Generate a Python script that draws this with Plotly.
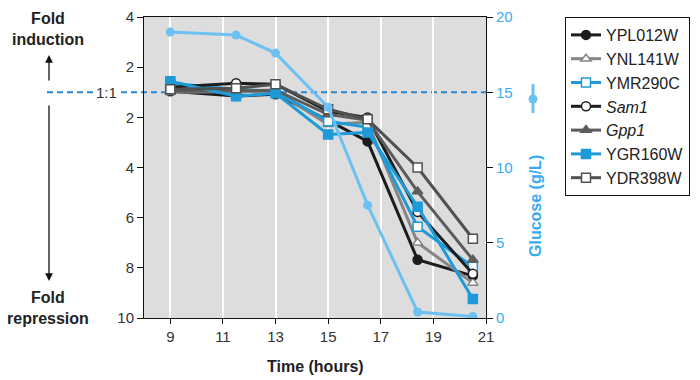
import plotly.graph_objects as go

# ---------------- data ----------------
time_h = [9, 11.5, 13, 15, 16.5, 18.4, 20.5]
# fold change: positive = fold induction, negative = fold repression
YPL012W = [1.04, -1.15, -1.08, -2.12, -2.96, -7.68, -8.32]
YNL141W = [1.0, 1.04, 1.04, -2.28, -2.2, -7.0, -8.6]
YMR290C = [1.36, 1.12, 1.04, -2.16, -2.4, -6.36, -7.96]
Sam1 = [1.2, 1.36, 1.32, -1.76, -2.01, -5.77, -8.24]
Gpp1 = [1.04, 1.08, 1.08, -1.88, -2.12, -4.96, -7.68]
YGR160W = [1.44, -1.16, -1.04, -2.68, -2.6, -5.56, -9.24]
YDR398W = [1.12, 1.16, 1.32, -1.68, -2.08, -4.0, -6.84]
glucose = [19.0, 18.8, 17.6, 14.0, 7.5, 0.4, 0.1]

x_ticks = [9, 11, 13, 15, 17, 19, 21]
fold_ticks = [4, 2, -2, -4, -6, -8, -10]
fold_tick_text = ["4", "2", "2", "4", "6", "8", "10"]
glucose_ticks = [0, 5, 10, 15, 20]


def pos(v):
    # map signed fold change onto a linear axis where 1:1 sits at 0
    return v - 1 if v > 0 else v + 1


series = [
    ("YPL012W", YPL012W, "#1c1c1c", "circle", "#1c1c1c"),
    ("YNL141W", YNL141W, "#858585", "triangle-up", "white"),
    ("YMR290C", YMR290C, "#1e9ad8", "square", "white"),
    ("<i>Sam1</i>", Sam1, "#1c1c1c", "circle", "white"),
    ("<i>Gpp1</i>", Gpp1, "#5c5c5c", "triangle-up", "#5c5c5c"),
    ("YGR160W", YGR160W, "#1e9ad8", "square", "#1e9ad8"),
    ("YDR398W", YDR398W, "#505050", "square", "white"),
]

FONT = "Liberation Sans, Arial, sans-serif"
OFF = 8  # page body margin
FIG_W, FIG_H = 700 - OFF, 380 - OFF
# plot area in screen pixels
L, R, T, B = 144, 486, 17, 318
W, H = R - L, B - T
Y_MIN, Y_MAX = -9, 3


def px_x(p):
    return (p - L) / W


def px_y(p):
    return (B - p) / H


fig = go.Figure()
for name, vals, col, sym, fill in series:
    fig.add_trace(go.Scatter(
        x=time_h, y=[pos(v) for v in vals], name=name, mode="lines+markers",
        line=dict(color=col, width=3),
        marker=dict(symbol=sym, size=9, color=fill, line=dict(color=col, width=1.5)),
    ))

fig.add_trace(go.Scatter(
    x=time_h, y=glucose, yaxis="y2", mode="lines+markers", showlegend=False,
    line=dict(color="#6cc0f2", width=3),
    marker=dict(symbol="circle", size=9, color="#6cc0f2"),
))

one_to_one = (0 - Y_MIN) / (Y_MAX - Y_MIN)
dash_line = dict(color="#2a88d0", width=2, dash="6px,4px")
shapes = [
    dict(type="line", xref="paper", yref="paper", x0=px_x(47), x1=px_x(93),
         y0=one_to_one, y1=one_to_one, line=dash_line),
    dict(type="line", xref="paper", yref="paper", x0=px_x(121), x1=1,
         y0=one_to_one, y1=one_to_one, layer="below", line=dash_line),
    dict(type="line", xref="paper", yref="paper", x0=px_x(533), x1=px_x(533),
         y0=px_y(84), y1=px_y(113), line=dict(color="#6cc0f2", width=3)),
    dict(type="circle", xref="paper", yref="paper", x0=px_x(528.5), x1=px_x(537.5),
         y0=px_y(94.5), y1=px_y(103.5), fillcolor="#6cc0f2", line=dict(width=0)),
]


def label(text, x, y, size=16, color="#222", **kw):
    return dict(text=text, xref="paper", yref="paper", x=x, y=y, xanchor="center",
                yanchor="middle", showarrow=False,
                font=dict(family=FONT, size=size, color=color), **kw)


annotations = [
    label("1:1", px_x(106), one_to_one, size=15, color="#333"),
    label("<b>Fold<br>induction</b>", px_x(48), px_y(29)),
    label("<b>Fold<br>repression</b>", px_x(48), px_y(308)),
    label("<b>Glucose (g/L)</b>", px_x(535), px_y(206), color="#3aabef", textangle=-90),
    label("<b>Time (hours)</b>", px_x(315), px_y(366)),
    dict(text="", xref="paper", yref="paper", x=px_x(49), y=px_y(55), ax=0, ay=27,
         showarrow=True, arrowhead=2, arrowsize=1.2, arrowwidth=1.3, arrowcolor="#111",
         standoff=0),
    dict(text="", xref="paper", yref="paper", x=px_x(49), y=px_y(281), ax=0, ay=-177,
         showarrow=True, arrowhead=2, arrowsize=1.2, arrowwidth=1.3, arrowcolor="#111",
         standoff=0),
]

fig.update_layout(
    width=FIG_W, height=FIG_H,
    margin=dict(l=L - OFF, r=FIG_W - (R - OFF), t=T - OFF, b=FIG_H - (B - OFF),
                autoexpand=False),
    paper_bgcolor="white", plot_bgcolor="#dddddd",
    font=dict(family=FONT, size=15, color="#333"),
    showlegend=True,
    legend=dict(x=px_x(565), y=1, xanchor="left", yanchor="top",
                bordercolor="#111", borderwidth=1, bgcolor="white",
                font=dict(family=FONT, size=16, color="#222"), itemwidth=30,
                entrywidth=92),
    xaxis=dict(range=[8, 21], tickvals=x_ticks, showgrid=True, gridcolor="white",
               gridwidth=2, showline=True, linecolor="#111", linewidth=1, mirror=True,
               ticks="outside", ticklen=5, tickcolor="#111", zeroline=False,
               tickfont=dict(size=15, color="#333")),
    yaxis=dict(range=[Y_MIN, Y_MAX], tickvals=[pos(v) for v in fold_ticks],
               ticktext=fold_tick_text, showgrid=False, zeroline=False,
               showline=True, linecolor="#111", linewidth=1, mirror=True,
               ticks="outside", ticklen=6, tickcolor="#111",
               tickfont=dict(size=15, color="#333")),
    yaxis2=dict(range=[0, 20], tickvals=glucose_ticks, overlaying="y", side="right",
                showgrid=False, zeroline=False, showline=True, linecolor="#111",
                linewidth=1, ticks="outside", ticklen=6, tickcolor="#111",
                tickfont=dict(size=15, color="#3aabef")),
    shapes=shapes, annotations=annotations,
)

fig.write_html("out.html")
